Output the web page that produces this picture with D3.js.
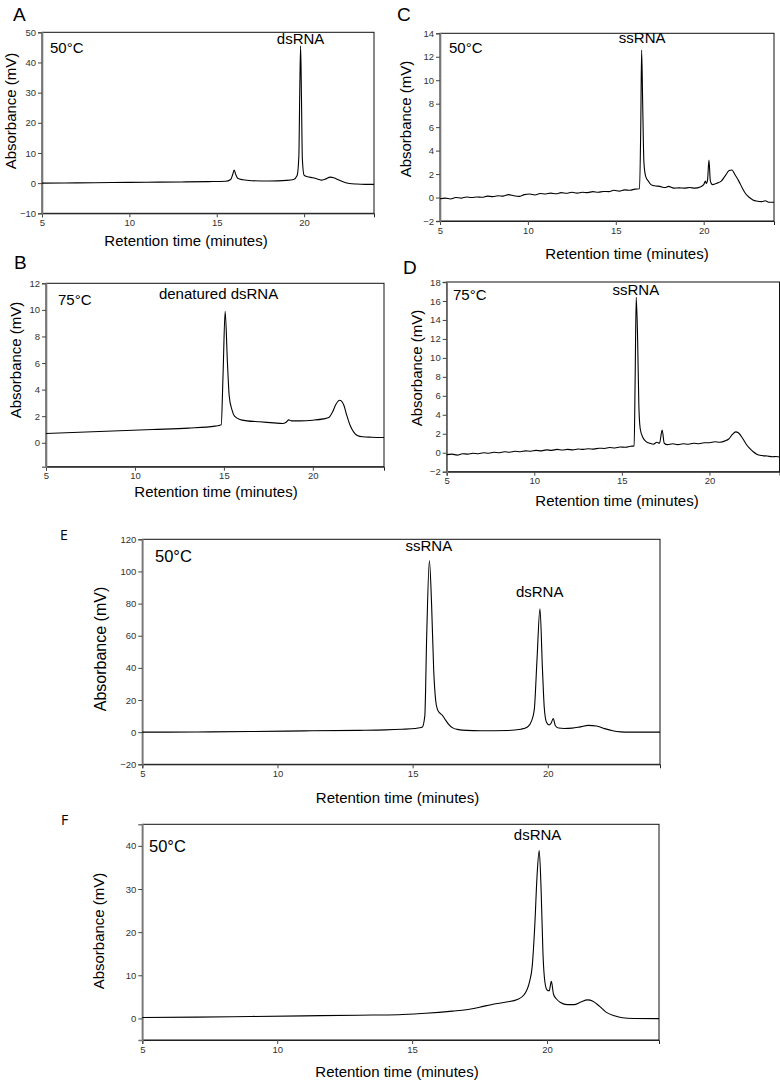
<!DOCTYPE html>
<html>
<head>
  <meta charset="utf-8">
  <title>HPLC chromatograms</title>
  <script src="https://d3js.org/d3.v7.min.js"></script>
  <style>
    body { margin: 0; background: #fff; }
    svg { display: block; }
    .tick text { fill: #333; }
  </style>
</head>
<body>
<script>
// chromatogram traces: [retention time (min), absorbance (mV)]
const traceA = [[5,0],[7,0.1],[9,0.2],[11,0.3],[13,0.4],[14.5,0.5],[15.5,0.6],[15.8,1.2],[15.9,2.6],[16.0,4.3],[16.08,3.0],[16.2,1.6],[16.5,1.1],[17,0.8],[18,0.7],[19,0.9],[19.4,1.2],[19.6,2.5],[19.7,9],[19.75,30],[19.8,45.5],[19.85,28],[19.9,8],[20.0,2.6],[20.2,2.1],[20.5,1.8],[20.8,1.3],[21.0,1.0],[21.2,1.3],[21.5,2.0],[21.7,1.8],[22.0,1.0],[22.3,0.3],[22.6,-0.1],[23,-0.3],[23.5,-0.4],[24,-0.4]];

const traceB = [[5,0.7],[8,0.85],[11,1.0],[13,1.1],[14.5,1.25],[14.85,1.35],[14.95,5],[15.07,9.9],[15.2,6],[15.3,3.5],[15.45,2.5],[15.6,2.0],[15.9,1.75],[16.3,1.65],[17,1.58],[17.8,1.5],[18.3,1.45],[18.5,1.55],[18.65,1.72],[18.8,1.65],[19.3,1.65],[20,1.7],[20.6,1.8],[20.9,1.9],[21.1,2.3],[21.3,2.9],[21.5,3.2],[21.6,3.15],[21.75,2.8],[21.9,2.1],[22.1,1.3],[22.3,0.8],[22.5,0.55],[22.8,0.45],[23.3,0.42],[24,0.4]];

const traceC = [[5,-0.1],[5.3,-0.05],[5.6,-0.12],[5.9,0.0],[6.2,-0.05],[6.5,0.05],[6.8,0.0],[7.1,0.05],[7.4,0.02],[7.7,0.12],[8.0,0.08],[8.3,0.15],[8.6,0.12],[8.9,0.25],[9.2,0.15],[9.5,0.1],[9.8,0.25],[10.1,0.3],[10.4,0.22],[10.7,0.35],[11.0,0.3],[11.3,0.38],[11.6,0.32],[11.9,0.42],[12.2,0.36],[12.5,0.45],[12.8,0.38],[13.1,0.45],[13.4,0.42],[13.7,0.5],[14.0,0.45],[14.3,0.52],[14.6,0.5],[14.9,0.62],[15.2,0.55],[15.5,0.65],[15.8,0.62],[16.1,0.72],[16.35,0.75],[16.42,6],[16.47,12.57],[16.53,8],[16.6,3],[16.7,1.8],[16.85,1.4],[17.0,1.1],[17.2,1.0],[17.5,0.95],[17.8,0.85],[18.0,0.95],[18.3,0.8],[18.6,0.82],[18.9,0.8],[19.2,0.85],[19.5,0.8],[19.8,0.9],[20.0,1.1],[20.1,1.4],[20.15,1.2],[20.22,1.5],[20.3,3.2],[20.38,1.4],[20.5,1.1],[20.8,1.25],[21.0,1.4],[21.2,1.8],[21.45,2.3],[21.6,2.35],[21.8,1.9],[22.0,1.4],[22.2,0.8],[22.4,0.3],[22.6,0.0],[22.8,-0.2],[23.0,-0.3],[23.3,-0.35],[23.5,-0.28],[23.7,-0.4],[24,-0.4]];

const traceD = [[5,-0.2],[5.3,-0.15],[5.6,-0.25],[5.9,-0.1],[6.2,-0.15],[6.5,-0.05],[6.8,-0.1],[7.1,0.0],[7.4,-0.05],[7.7,0.05],[8.0,0.0],[8.3,0.1],[8.6,0.05],[8.9,0.15],[9.2,0.1],[9.5,0.2],[9.8,0.15],[10.1,0.25],[10.4,0.2],[10.7,0.3],[11.0,0.25],[11.3,0.35],[11.6,0.28],[11.9,0.35],[12.2,0.3],[12.5,0.4],[12.8,0.35],[13.1,0.42],[13.4,0.38],[13.7,0.48],[14.0,0.45],[14.3,0.55],[14.6,0.5],[14.9,0.6],[15.2,0.58],[15.5,0.68],[15.7,0.72],[15.76,8],[15.82,16.4],[15.9,12],[15.97,5],[16.05,2.5],[16.2,1.6],[16.4,1.15],[16.6,1.0],[16.8,0.9],[17.0,1.1],[17.15,1.0],[17.3,2.4],[17.42,1.0],[17.6,0.85],[17.9,0.95],[18.2,0.85],[18.5,0.95],[18.8,0.9],[19.1,1.0],[19.4,0.95],[19.7,1.05],[20.0,1.05],[20.3,1.15],[20.6,1.1],[20.9,1.25],[21.1,1.45],[21.3,1.9],[21.5,2.2],[21.65,2.1],[21.9,1.5],[22.1,0.9],[22.3,0.45],[22.5,0.1],[22.7,-0.15],[23.0,-0.3],[23.3,-0.35],[23.6,-0.42],[23.8,-0.4],[24,-0.45]];

const traceE = [[5,0],[7,0.1],[9,0.4],[11,0.8],[13,1.1],[14,1.4],[14.6,1.8],[15.1,2.3],[15.35,3],[15.45,10],[15.52,60],[15.62,106.8],[15.7,80],[15.78,38],[15.85,20],[15.92,14],[16.0,12],[16.1,10.5],[16.22,7.5],[16.35,4.5],[16.5,2.5],[16.7,1.6],[17,1.1],[17.5,0.9],[18,0.9],[18.5,1.0],[19.0,1.8],[19.25,3.2],[19.4,7],[19.5,14],[19.6,45],[19.71,76.8],[19.8,40],[19.87,15],[19.95,6.2],[20.05,4.5],[20.12,5.5],[20.2,8.5],[20.28,4.0],[20.4,2.6],[20.6,2.3],[20.9,2.5],[21.2,3.3],[21.5,4.2],[21.8,3.8],[22.1,2.2],[22.4,0.9],[22.7,0.2],[23,0],[24.15,0]];

const traceF = [[5,0.2],[7,0.3],[9,0.45],[11,0.6],[13,0.75],[14.5,0.85],[15.5,1.2],[16.5,1.7],[17,2.0],[17.5,2.6],[18,3.3],[18.5,3.8],[18.9,4.4],[19.15,5.5],[19.35,8.5],[19.45,12],[19.55,22],[19.63,33],[19.71,38.9],[19.78,30],[19.85,15],[19.92,8.5],[20.0,6.6],[20.08,6.4],[20.16,8.6],[20.24,5.6],[20.35,4.5],[20.5,3.7],[20.75,3.2],[21.0,3.2],[21.25,3.8],[21.5,4.3],[21.7,4.0],[21.95,2.8],[22.2,1.4],[22.5,0.6],[22.8,0.15],[23.2,0],[24.15,-0.05]];

// axis ticks
const xTicks = [5, 10, 15, 20];
const yTicksA = [-10, 0, 10, 20, 30, 40, 50];
const yTicksB = [0, 2, 4, 6, 8, 10, 12];
const yTicksC = [-2, 0, 2, 4, 6, 8, 10, 12, 14];
const yTicksD = [-2, 0, 2, 4, 6, 8, 10, 12, 14, 16, 18];
const yTicksE = [-20, 0, 20, 40, 60, 80, 100, 120];
const yTicksF = [0, 10, 20, 30, 40];

// panel labels / annotations
const peakLabelsA = [{text: "dsRNA", t: 19.8, v: 46}];
const peakLabelsB = [{text: "denatured dsRNA", t: 14.7, v: 10.8}];
const peakLabelsC = [{text: "ssRNA", t: 16.5, v: 13.2}];
const peakLabelsD = [{text: "ssRNA", t: 15.8, v: 16.6}];
const peakLabelsE = [{text: "ssRNA", t: 15.6, v: 113}, {text: "dsRNA", t: 19.7, v: 84}];
const peakLabelsF = [{text: "dsRNA", t: 19.65, v: 41.3}];

const panels = [
  {id: "A", data: traceA, yTicks: yTicksA, xDom: [5, 24], yDom: [-10, 50], peaks: peakLabelsA, temp: "50°C",
   left: 42, right: 374, top: 32.3, bottom: 213.3, letter: [13, 21], letterFont: "Liberation Sans", letterSize: 19,
   tempPos: [50, 52.5], tempSize: 15, yLab: [15.5, 111], xLab: [186, 246], labSize: 15},
  {id: "B", data: traceB, yTicks: yTicksB, xDom: [5, 24], yDom: [-1.8, 12], peaks: peakLabelsB, temp: "75°C",
   left: 46, right: 384, top: 283.3, bottom: 466.7, letter: [14, 269], letterFont: "Liberation Sans", letterSize: 19,
   tempPos: [58, 305], tempSize: 15, yLab: [21, 360], xLab: [216, 497], labSize: 15},
  {id: "C", data: traceC, yTicks: yTicksC, xDom: [5, 24], yDom: [-2, 14], peaks: peakLabelsC, temp: "50°C",
   left: 440, right: 774, top: 33.3, bottom: 221, letter: [397, 21], letterFont: "Liberation Sans", letterSize: 19,
   tempPos: [449, 52.5], tempSize: 15, yLab: [411, 119], xLab: [627, 258.5], labSize: 15},
  {id: "D", data: traceD, yTicks: yTicksD, xDom: [5, 24], yDom: [-2, 18], peaks: peakLabelsD, temp: "75°C",
   left: 446.7, right: 779.5, top: 282, bottom: 471.7, letter: [403, 274], letterFont: "Liberation Sans", letterSize: 19,
   tempPos: [453, 300], tempSize: 15, yLab: [422, 368], xLab: [617, 506], labSize: 15},
  {id: "E", data: traceE, yTicks: yTicksE, xDom: [5, 24.15], yDom: [-20, 120], peaks: peakLabelsE, temp: "50°C",
   left: 142.3, right: 660, top: 539.3, bottom: 764.3, letter: [60, 540], letterFont: "Open Sans", letterSize: 14,
   tempPos: [155, 562], tempSize: 16.5, yLab: [106, 649], xLab: [397.5, 803], labSize: 16},
  {id: "F", data: traceF, yTicks: yTicksF, xDom: [5, 24.15], yDom: [-5, 45], peaks: peakLabelsF, temp: "50°C",
   left: 142.3, right: 659, top: 824.3, bottom: 1040, letter: [61, 825], letterFont: "Open Sans", letterSize: 14,
   tempPos: [149, 851.7], tempSize: 16.5, yLab: [104, 931], xLab: [397, 1077], labSize: 15}
];

const svg = d3.select("body").append("svg")
  .attr("width", 780)
  .attr("height", 1082)
  .style("font-family", "'Liberation Sans', Arial, sans-serif");

panels.forEach(function(p){
  const x = d3.scaleLinear().domain(p.xDom).range([p.left, p.right]);
  const y = d3.scaleLinear().domain(p.yDom).range([p.bottom, p.top]);
  const g = svg.append("g");

  // frame
  g.append("rect")
    .attr("x", p.left).attr("y", p.top)
    .attr("width", p.right - p.left).attr("height", p.bottom - p.top)
    .attr("fill", "none").attr("stroke", "#111").attr("stroke-width", 1);

  g.append("g")
    .attr("transform", `translate(0,${p.bottom})`)
    .call(d3.axisBottom(x).tickValues(xTicks).tickSize(4).tickPadding(2))
    .call(a => a.select(".domain").attr("stroke", "#222"))
    .call(a => a.selectAll(".tick line").attr("stroke", "#444"))
    .call(a => a.selectAll("text").attr("font-size", 9.5).attr("font-family", "'Liberation Sans', Arial, sans-serif"));

  g.append("g")
    .attr("transform", `translate(${p.left},0)`)
    .call(d3.axisLeft(y).tickValues(p.yTicks).tickSize(4).tickPadding(2))
    .call(a => a.select(".domain").attr("stroke", "#777").attr("stroke-width", 1.6))
    .call(a => a.selectAll(".tick line").attr("stroke", "#444"))
    .call(a => a.selectAll("text").attr("font-size", 9.5).attr("font-family", "'Liberation Sans', Arial, sans-serif"));

  const line = d3.line()
    .x(d => x(d[0]))
    .y(d => y(d[1]))
    .curve(d3.curveMonotoneX);

  g.append("path")
    .datum(p.data)
    .attr("fill", "none")
    .attr("stroke", "#000")
    .attr("stroke-width", 1.1)
    .attr("d", line);

  g.append("text")
    .attr("x", p.letter[0]).attr("y", p.letter[1])
    .attr("font-family", p.letterFont)
    .attr("font-size", p.letterSize)
    .text(p.id);

  g.append("text")
    .attr("x", p.tempPos[0]).attr("y", p.tempPos[1])
    .attr("font-size", p.tempSize)
    .text(p.temp);

  g.selectAll(".peak")
    .data(p.peaks)
    .join("text")
      .attr("class", "peak")
      .attr("x", d => x(d.t))
      .attr("y", d => y(d.v))
      .attr("text-anchor", "middle")
      .attr("font-size", 15)
      .text(d => d.text);

  g.append("text")
    .attr("transform", `translate(${p.yLab[0]},${p.yLab[1]}) rotate(-90)`)
    .attr("text-anchor", "middle")
    .attr("font-size", p.labSize)
    .text("Absorbance (mV)");

  g.append("text")
    .attr("x", p.xLab[0]).attr("y", p.xLab[1])
    .attr("text-anchor", "middle")
    .attr("font-size", 15)
    .text("Retention time (minutes)");
});
</script>
</body>
</html>
